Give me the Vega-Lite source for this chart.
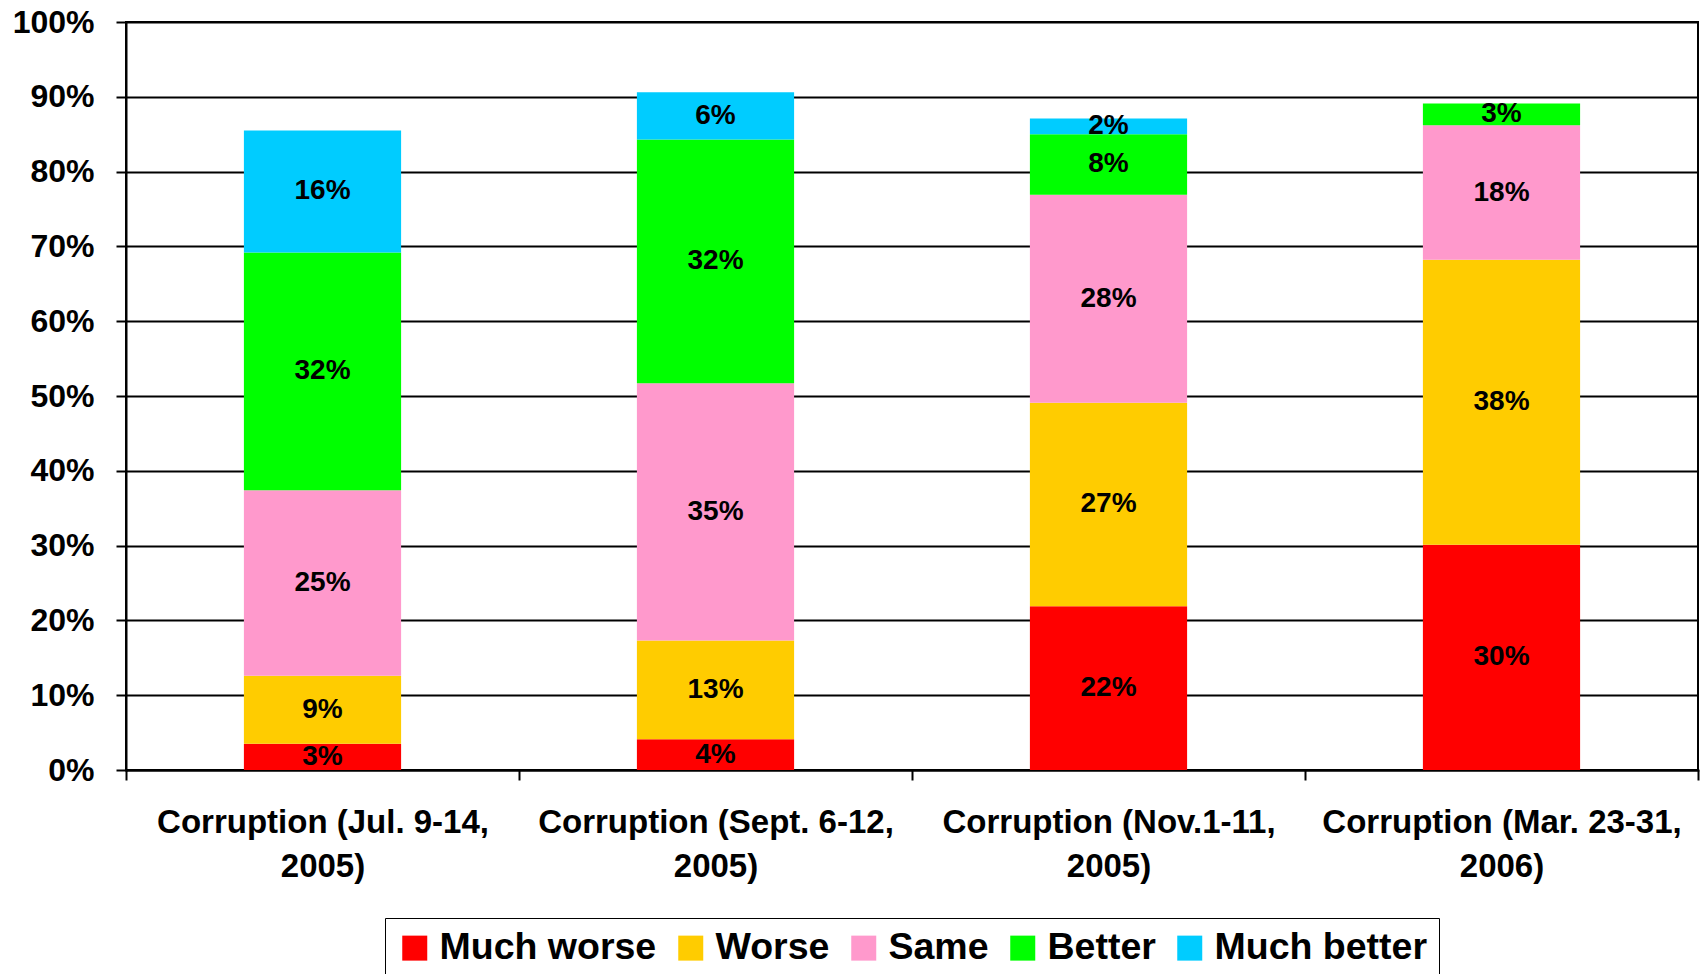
{
  "$schema": "https://vega.github.io/schema/vega-lite/v6.json",
  "width": 1572,
  "height": 748,
  "padding": {"left": 12, "top": 6, "right": 7, "bottom": 0},
  "background": "white",
  "data": {
    "values": [
      {"period": "Corruption (Jul. 9-14, 2005)", "response": "Much worse", "rank": 1, "value": 3.5, "label": "3%"},
      {"period": "Corruption (Jul. 9-14, 2005)", "response": "Worse", "rank": 2, "value": 9.1, "label": "9%"},
      {"period": "Corruption (Jul. 9-14, 2005)", "response": "Same", "rank": 3, "value": 24.8, "label": "25%"},
      {"period": "Corruption (Jul. 9-14, 2005)", "response": "Better", "rank": 4, "value": 31.8, "label": "32%"},
      {"period": "Corruption (Jul. 9-14, 2005)", "response": "Much better", "rank": 5, "value": 16.3, "label": "16%"},
      {"period": "Corruption (Sept. 6-12, 2005)", "response": "Much worse", "rank": 1, "value": 4.1, "label": "4%"},
      {"period": "Corruption (Sept. 6-12, 2005)", "response": "Worse", "rank": 2, "value": 13.2, "label": "13%"},
      {"period": "Corruption (Sept. 6-12, 2005)", "response": "Same", "rank": 3, "value": 34.4, "label": "35%"},
      {"period": "Corruption (Sept. 6-12, 2005)", "response": "Better", "rank": 4, "value": 32.6, "label": "32%"},
      {"period": "Corruption (Sept. 6-12, 2005)", "response": "Much better", "rank": 5, "value": 6.3, "label": "6%"},
      {"period": "Corruption (Nov.1-11, 2005)", "response": "Much worse", "rank": 1, "value": 21.9, "label": "22%"},
      {"period": "Corruption (Nov.1-11, 2005)", "response": "Worse", "rank": 2, "value": 27.2, "label": "27%"},
      {"period": "Corruption (Nov.1-11, 2005)", "response": "Same", "rank": 3, "value": 27.8, "label": "28%"},
      {"period": "Corruption (Nov.1-11, 2005)", "response": "Better", "rank": 4, "value": 8.1, "label": "8%"},
      {"period": "Corruption (Nov.1-11, 2005)", "response": "Much better", "rank": 5, "value": 2.1, "label": "2%"},
      {"period": "Corruption (Mar. 23-31, 2006)", "response": "Much worse", "rank": 1, "value": 30.1, "label": "30%"},
      {"period": "Corruption (Mar. 23-31, 2006)", "response": "Worse", "rank": 2, "value": 38.1, "label": "38%"},
      {"period": "Corruption (Mar. 23-31, 2006)", "response": "Same", "rank": 3, "value": 18.0, "label": "18%"},
      {"period": "Corruption (Mar. 23-31, 2006)", "response": "Better", "rank": 4, "value": 2.9, "label": "3%"}
    ]
  },
  "encoding": {
    "x": {
      "field": "period",
      "type": "nominal",
      "sort": null,
      "scale": {"paddingInner": 0, "paddingOuter": 0},
      "axis": {
        "title": null,
        "labelAngle": 0,
        "labelFont": "Liberation Sans",
        "labelFontWeight": "bold",
        "labelFontSize": 33,
        "labelColor": "black",
        "labelLineHeight": 44,
        "labelPadding": 26,
        "labelLimit": 0,
        "labelExpr": "[slice(datum.label, 0, lastindexof(datum.label, ' ')), slice(datum.label, lastindexof(datum.label, ' ') + 1)]",
        "tickBand": "extent",
        "tickSize": 10,
        "tickColor": "black",
        "tickWidth": 2,
        "domainColor": "black",
        "domainWidth": 2,
        "grid": false
      }
    },
    "y": {
      "field": "value",
      "type": "quantitative",
      "stack": "zero",
      "scale": {"domain": [0, 100], "nice": false},
      "axis": {
        "title": null,
        "values": [0, 10, 20, 30, 40, 50, 60, 70, 80, 90, 100],
        "labelExpr": "datum.value + '%'",
        "labelFont": "Liberation Sans",
        "labelFontWeight": "bold",
        "labelFontSize": 32,
        "labelColor": "black",
        "labelPadding": 22,
        "tickSize": 10,
        "tickColor": "black",
        "tickWidth": 2,
        "domainColor": "black",
        "domainWidth": 2,
        "grid": true,
        "gridColor": "black",
        "gridWidth": 2,
        "gridOpacity": 1
      }
    },
    "order": {"field": "rank", "type": "quantitative"}
  },
  "layer": [
    {
      "mark": {"type": "bar", "width": {"band": 0.4}},
      "encoding": {
        "color": {
          "field": "response",
          "type": "nominal",
          "scale": {
            "domain": ["Much worse", "Worse", "Same", "Better", "Much better"],
            "range": ["#FF0000", "#FFCC00", "#FF99CC", "#00FF00", "#00CCFF"]
          },
          "legend": {
            "title": null,
            "orient": "none",
            "direction": "horizontal",
            "legendX": 259,
            "legendY": 896,
            "symbolType": "square",
            "symbolSize": 625,
            "symbolStrokeWidth": 0,
            "symbolOpacity": 1,
            "labelFont": "Liberation Sans",
            "labelFontWeight": "bold",
            "labelFontSize": 37.5,
            "labelColor": "black",
            "labelOffset": 6,
            "labelLimit": 0,
            "columnPadding": 15,
            "padding": 11,
            "strokeColor": "black"
          }
        }
      }
    },
    {
      "mark": {"type": "text", "font": "Liberation Sans", "fontWeight": "bold", "fontSize": 28, "color": "black", "baseline": "middle", "align": "center"},
      "encoding": {
        "y": {"field": "value", "type": "quantitative", "stack": "zero", "bandPosition": 0.5},
        "text": {"field": "label"}
      }
    }
  ],
  "config": {
    "view": {"stroke": "black", "strokeWidth": 2},
    "axis": {"domainCap": "square"}
  }
}
